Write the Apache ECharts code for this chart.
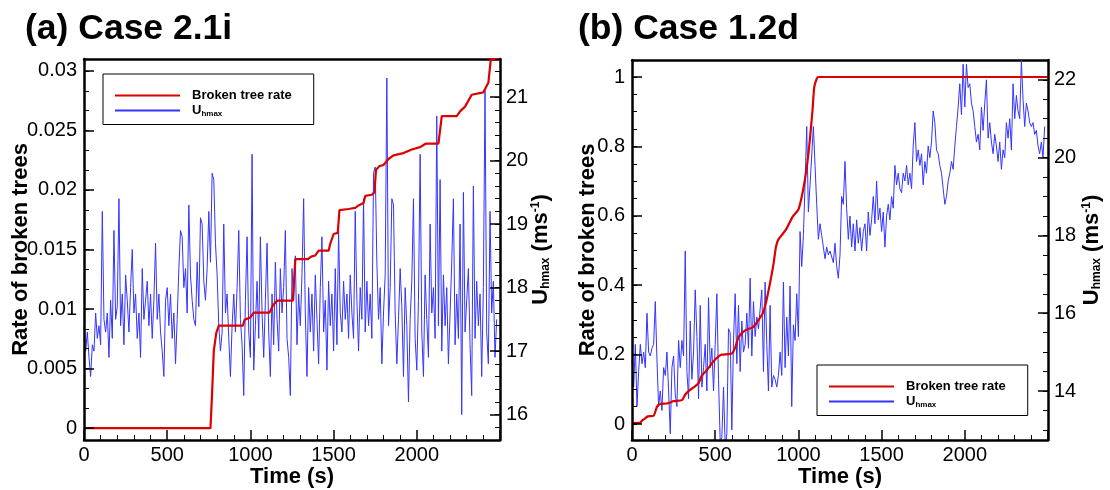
<!DOCTYPE html>
<html><head><meta charset="utf-8">
<script src="https://cdn.jsdelivr.net/npm/echarts@6/dist/echarts.min.js"></script>
<style>html,body{margin:0;padding:0;background:#fff}#c{width:1110px;height:490px}</style>
</head><body><div id="c"></div>
<script>
// ---------- data ----------
const panelTitles = ['(a) Case 2.1i', '(b) Case 1.2d'];
const xTicks = [0, 500, 1000, 1500, 2000];
const rateTicksA = [0, 0.005, 0.01, 0.015, 0.02, 0.025, 0.03];
const uTicksA = [16, 17, 18, 19, 20, 21];
const rateTicksB = [0, 0.2, 0.4, 0.6, 0.8, 1];
const uTicksB = [14, 16, 18, 20, 22];

// sampling times of U_hmax (s)
const sampleStep = 10;
const sampleCount = 249;

// (a) U_hmax, one value every 10 s from 0 s
const uA = [
 17.4,17.0,17.3,16.9,16.6,17.1,17.0,17.6,17.2,17.4,
 17.1,19.2,17.5,17.3,17.6,16.9,17.8,17.2,18.9,17.5,
 17.7,19.4,17.4,17.9,17.1,18.2,17.8,17.3,18.0,18.6,
 17.6,17.9,17.2,17.6,16.9,18.3,17.5,17.8,18.1,17.4,
 17.9,17.2,17.8,18.7,17.5,17.9,17.3,17.0,16.6,17.8,
 18.0,17.4,17.9,17.2,17.6,16.8,17.5,18.3,18.9,18.8,
 18.0,18.3,17.6,19.3,18.2,17.8,17.5,17.4,18.4,17.7,
 19.1,19.0,18.1,17.8,18.3,19.2,18.4,19.8,19.7,18.7,
 18.2,17.4,17.0,17.3,19.0,17.6,17.9,17.2,16.6,17.4,
 17.9,17.3,18.0,18.9,17.5,17.1,16.3,17.8,18.8,17.3,
 16.9,20.1,16.7,17.4,18.1,17.2,18.8,17.6,16.9,17.8,
 18.7,17.3,16.6,17.9,17.1,18.4,17.5,17.0,18.3,17.6,
 18.0,18.9,17.2,16.9,16.3,18.3,17.8,18.5,17.1,17.9,
 17.4,18.2,19.4,17.6,16.6,18.0,17.3,17.9,17.0,18.2,
 17.5,16.8,18.0,18.8,17.3,17.8,16.7,18.1,17.4,17.9,
 17.0,18.3,17.1,18.9,17.6,17.3,18.1,17.5,17.9,17.2,
 18.2,17.6,17.2,19.2,17.8,17.0,18.0,17.5,19.4,17.3,
 18.1,17.4,17.9,17.2,19.8,19.9,18.4,17.5,18.0,16.8,
 17.6,18.2,21.3,17.4,18.0,19.4,19.3,17.6,16.8,17.5,
 18.3,17.7,16.6,18.0,17.4,16.2,17.5,18.1,19.4,17.2,
 16.7,17.8,20.1,17.3,16.6,18.2,17.5,16.9,19.0,17.6,
 18.0,17.2,20.7,17.4,19.7,17.0,18.2,17.4,18.0,16.8,
 17.6,18.4,19.4,17.1,17.9,17.2,19.0,16.0,19.5,17.3,
 17.8,18.3,17.1,16.3,19.6,17.2,18.1,17.4,17.9,16.6,
 18.0,21.1,17.3,16.8,19.2,17.6,18.1,16.9,17.5
];

// (a) broken tree rate: [time, rate]
const rateTimeA = [0,760,770,780,795,810,955,965,1000,1020,1115,1135,1160,1255,1270,1345,1365,1390,1410,1470,1480,1500,1525,1535,1590,1630,1650,1680,1690,1730,1745,1755,1775,1800,1830,1860,1920,1970,2020,2055,2130,2150,2240,2260,2290,2330,2400,2430,2445,2500];
const rateA = [0,0,0.003,0.0065,0.008,0.0086,0.0086,0.0091,0.0093,0.0097,0.0097,0.0103,0.0107,0.0107,0.0142,0.0142,0.0144,0.0145,0.0149,0.0149,0.0155,0.0163,0.0164,0.0183,0.0184,0.0185,0.0187,0.0189,0.0195,0.0196,0.0198,0.0217,0.022,0.0221,0.0226,0.0229,0.0231,0.0234,0.0236,0.0239,0.0239,0.0262,0.0262,0.0266,0.027,0.028,0.0282,0.029,0.031,0.031];

// (b) U_hmax, one value every 10 s from 0 s
const uB = [
 14.8,14.1,15.2,13.6,14.5,15.2,14.7,15.0,14.6,16.0,
 15.0,14.9,15.1,15.2,16.3,14.8,13.6,14.0,13.5,14.6,
 14.4,15.0,14.0,12.9,14.6,14.9,13.9,13.6,15.3,14.6,
 15.3,14.9,17.6,14.5,13.8,15.8,14.3,15.0,16.6,15.4,
 13.8,16.2,14.1,14.6,15.2,14.0,16.4,14.6,15.1,14.0,
 15.2,16.5,14.3,12.7,12.8,14.1,12.6,12.9,15.6,15.5,
 13.0,15.3,16.5,14.7,16.2,14.5,15.8,15.0,15.2,16.0,
 15.1,16.9,14.9,16.3,15.4,15.9,15.6,16.1,16.6,14.5,
 16.8,15.2,14.0,16.2,14.1,14.4,14.3,14.1,14.4,15.0,
 14.4,16.8,14.6,15.9,14.9,16.7,13.6,15.7,15.3,16.5,
 15.4,18.1,17.2,18.0,19.3,20.8,18.6,19.3,19.3,20.8,
 19.8,18.8,17.9,18.3,18.0,17.7,17.4,17.7,17.5,17.6,
 17.6,17.3,17.8,17.2,16.9,17.5,19.0,18.8,19.9,18.7,
 17.9,18.5,17.7,18.3,17.6,18.4,17.8,18.2,17.6,18.1,
 18.3,17.6,18.6,18.0,18.4,19.0,18.3,19.4,18.4,18.7,
 18.1,18.6,17.7,18.5,18.8,18.4,19.0,18.7,19.8,19.3,
 19.6,19.2,19.1,19.6,19.4,19.8,19.3,19.6,19.2,20.3,
 20.9,19.9,20.2,19.8,20.1,19.3,19.9,19.6,20.3,20.0,
 20.4,21.2,20.9,20.2,20.1,19.8,19.6,19.2,18.8,19.0,
 19.4,19.6,19.9,19.7,20.3,20.8,21.3,21.9,21.1,22.4,
 21.3,22.4,21.8,21.9,21.4,21.2,20.8,20.4,20.6,20.2,
 21.3,20.7,21.4,22.0,20.5,20.9,20.4,20.1,20.6,20.3,
 19.9,20.4,19.7,20.2,20.0,20.9,20.5,21.0,20.2,21.9,
 21.0,21.6,21.2,21.0,22.5,21.5,20.8,21.4,21.2,20.9,
 20.8,20.9,20.6,20.7,20.3,20.1,20.4,20.0,20.8
];

// (b) broken tree rate: [time, rate]
const rateTimeB = [0,50,60,75,95,130,150,165,215,250,300,320,345,375,400,420,450,485,520,540,600,620,640,680,730,760,785,805,827,850,865,880,925,965,1000,1020,1042,1063,1085,1095,1110,1120,2500];
const rateB = [0.003,0.004,0.01,0.015,0.022,0.024,0.05,0.057,0.06,0.066,0.069,0.085,0.097,0.107,0.118,0.14,0.155,0.178,0.195,0.2,0.203,0.22,0.25,0.27,0.28,0.3,0.318,0.35,0.4,0.46,0.51,0.532,0.56,0.597,0.618,0.655,0.713,0.79,0.905,0.97,0.995,1.0,1.0];

const legendNames = ['Broken tree rate', 'Uhmax'];

// ---------- build ----------
const FONT = 'Liberation Sans, Arial, sans-serif';
const times = []; for (let i = 0; i < sampleCount; i++) times.push(i * sampleStep);
const pairs = (xs, ys) => xs.map((x, i) => [x, ys[i]]);
function steps(a, b, d) { const r = []; const n = Math.round((b - a) / d); for (let i = 0; i <= n; i++) r.push(+(a + i * d).toFixed(6)); return r; }

const GRIDS = [
  {left: 84, top: 59, width: 416, height: 381, outerBoundsMode: 'none', containLabel: false},
  {left: 632, top: 60, width: 416, height: 380, outerBoundsMode: 'none', containLabel: false}
];

const LINE = {show: true, onZero: false, lineStyle: {color: '#000', width: 2.5}};
function mainY(gi, pos, min, max, ticks, nameOpt) {
  return Object.assign({
    type: 'value', gridIndex: gi, position: pos, min: min, max: max,
    axisLine: LINE, splitLine: {show: false},
    axisTick: {show: true, inside: true, length: 10, lineStyle: {color: '#000', width: 1.5}, customValues: ticks},
    axisLabel: {show: true, customValues: ticks, margin: pos === 'left' ? 7 : 6, color: '#000', fontSize: 20, fontFamily: FONT,
      formatter: v => String(v)},
    nameLocation: 'middle', nameMoveOverlap: false, z: 5
  }, nameOpt);
}
function minorY(gi, pos, min, max, ticks) {
  return {type: 'value', gridIndex: gi, position: pos, min: min, max: max,
    axisLine: {show: false, onZero: false}, splitLine: {show: false}, axisLabel: {show: false},
    axisTick: {show: true, inside: true, length: 5, lineStyle: {color: '#000', width: 1}, customValues: ticks}, z: 5};
}
const nameStyleLeft = {fontSize: 22, fontWeight: 'bold', fontFamily: FONT, color: '#000'};
const uName = '{a|U}{b|hmax}{a| (ms}{c|-1}{a|)}';
const uNameStyle = {fontFamily: FONT, color: '#000', rich: {
  a: {fontSize: 22, fontWeight: 'bold', fontFamily: FONT, color: '#000'},
  b: {fontSize: 12, fontWeight: 'bold', fontFamily: FONT, color: '#000', verticalAlign: 'bottom', padding: [10, 0, 0, 0]},
  c: {fontSize: 12, fontWeight: 'bold', fontFamily: FONT, color: '#000', verticalAlign: 'top', padding: [0, 0, 10, 0]}
}};

const yAxes = [
  mainY(0, 'left', -0.001, 0.031, rateTicksA, {name: 'Rate of broken trees', nameGap: 52, nameRotate: 90, nameTextStyle: nameStyleLeft}),
  minorY(0, 'left', -0.001, 0.031, steps(0, 0.03, 0.005 / 3)),
  mainY(0, 'right', 15.6, 21.6, uTicksA, {name: uName, nameGap: 30, nameRotate: 90, nameTextStyle: uNameStyle}),
  minorY(0, 'right', 15.6, 21.6, steps(15.6, 21.6, 0.2)),
  mainY(1, 'left', -0.046, 1.049, rateTicksB, {name: 'Rate of broken trees', nameGap: 33, nameRotate: 90, nameTextStyle: nameStyleLeft}),
  minorY(1, 'left', -0.046, 1.049, steps(0, 1.0, 0.05)),
  mainY(1, 'right', 12.74, 22.51, uTicksB, {name: uName, nameGap: 33, nameRotate: 90, nameTextStyle: uNameStyle}),
  minorY(1, 'right', 12.74, 22.51, steps(13, 22.5, 0.5))
];

function xAx(gi) {
  return {type: 'value', gridIndex: gi, position: 'bottom', min: 0, max: 2500, interval: 500,
    axisLine: LINE, splitLine: {show: false},
    axisTick: {show: true, inside: true, length: 10, lineStyle: {color: '#000', width: 1.5}},
    minorTick: {show: true, splitNumber: 5, length: 5, lineStyle: {color: '#000', width: 1}},
    axisLabel: {showMaxLabel: false, margin: 5, color: '#000', fontSize: 20, fontFamily: FONT, formatter: v => String(v)},
    name: 'Time (s)', nameLocation: 'middle', nameGap: 26, nameMoveOverlap: false, z: 5,
    nameTextStyle: {fontSize: 22, fontWeight: 'bold', fontFamily: FONT, color: '#000'}};
}
function xTop(gi) {
  return {type: 'value', gridIndex: gi, position: 'top', min: 0, max: 2500,
    axisLine: LINE, splitLine: {show: false}, axisTick: {show: false}, axisLabel: {show: false}};
}

function legendRich() {
  return {
    t: {fontSize: 13, fontWeight: 'bold', fontFamily: FONT, color: '#000'},
    s: {fontSize: 8, fontWeight: 'bold', fontFamily: FONT, color: '#000', verticalAlign: 'bottom', padding: [6, 0, 0, 0]}
  };
}
function legendFmt(n) { return n === 'Uhmax' ? '{t|U}{s|hmax}' : '{t|' + n + '}'; }
function legend(left, top) {
  return {left: left, top: top, orient: 'vertical', data: legendNames, selectedMode: false,
    itemWidth: 65, itemHeight: 14, itemGap: 2,
    padding: [15, 22, 7, 11], borderColor: '#000', borderWidth: 1, backgroundColor: '#fff',
    itemStyle: {opacity: 0},
    formatter: legendFmt, textStyle: {padding: [0, 0, 0, 7], rich: legendRich()}};
}

const RED = '#dc0000', BLUE = '#3434ff';
const option = {
  animation: false,
  title: [
    {text: panelTitles[0], left: 25, top: 11, padding: 0, textStyle: {fontSize: 35.5, fontWeight: 'bold', fontFamily: FONT, color: '#000'}},
    {text: panelTitles[1], left: 578, top: 11, padding: 0, textStyle: {fontSize: 35.5, fontWeight: 'bold', fontFamily: FONT, color: '#000'}}
  ],
  grid: GRIDS,
  xAxis: [xAx(0), xTop(0), xAx(1), xTop(1)],
  yAxis: yAxes,
  legend: [legend(103, 74), legend(817, 365)],
  series: [
    {name: 'Uhmax', type: 'line', xAxisIndex: 0, yAxisIndex: 2, data: pairs(times, uA), symbol: 'none',
      lineStyle: {color: BLUE, width: 1}, itemStyle: {color: BLUE}, z: 2},
    {name: 'Broken tree rate', type: 'line', xAxisIndex: 0, yAxisIndex: 0, data: pairs(rateTimeA, rateA), symbol: 'none',
      lineStyle: {color: RED, width: 2.2}, itemStyle: {color: RED}, z: 3},
    {name: 'Uhmax', type: 'line', xAxisIndex: 2, yAxisIndex: 6, data: pairs(times, uB), symbol: 'none',
      lineStyle: {color: BLUE, width: 1}, itemStyle: {color: BLUE}, z: 2},
    {name: 'Broken tree rate', type: 'line', xAxisIndex: 2, yAxisIndex: 4, data: pairs(rateTimeB, rateB), symbol: 'none', smooth: 0.2,
      lineStyle: {color: RED, width: 2.2}, itemStyle: {color: RED}, z: 3}
  ]
};
const chart = echarts.init(document.getElementById('c'), null, {renderer: 'canvas'});
chart.setOption(option);
</script>
</body></html>
